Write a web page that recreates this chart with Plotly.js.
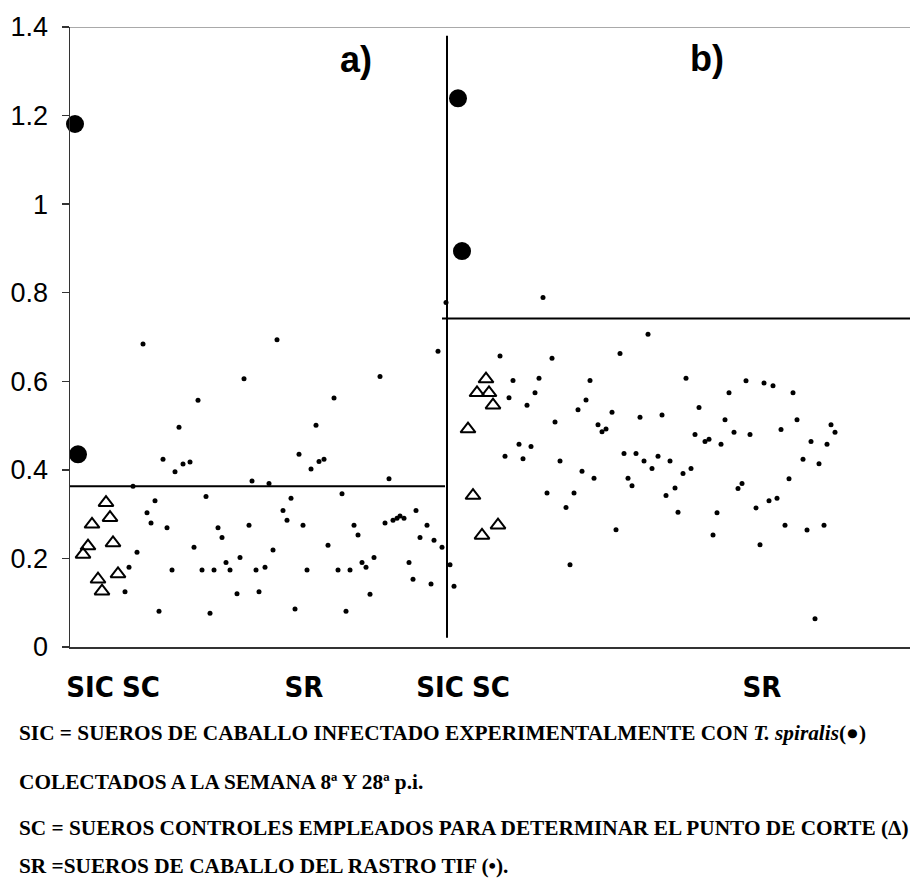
<!DOCTYPE html>
<html>
<head>
<meta charset="utf-8">
<script src="https://cdn.plot.ly/plotly-3.0.1.min.js"></script>
<style>html,body{margin:0;padding:0;background:#fff;}#chart{width:910px;height:878px;}</style>
</head>
<body>
<div id="chart"></div>
<script>
// ---- data (x = sample position along the axis, y = optical density) ----
const sicA_x = [5, 8];
const sicA_y = [1.181, 0.435];
const scA_x = [36, 22, 40, 18, 13, 43, 28, 32, 48];
const scA_y = [0.326, 0.277, 0.292, 0.228, 0.209, 0.235, 0.153, 0.126, 0.165];
const srA_x = [73, 174, 128, 109, 93, 105, 113, 120, 182, 63, 85, 136, 77, 81, 97, 148, 152, 179, 124, 67,
  59, 102, 132, 144, 156, 160, 170, 186, 55, 167, 189, 89, 140,
  199, 207, 310, 264, 246, 229, 241, 249, 254, 319, 368, 376, 221, 272, 213, 217, 233, 284, 288, 315, 323,
  327, 330, 334, 346, 357, 350, 364, 372, 203, 258, 195, 237, 268, 280, 292, 296, 304, 339, 343, 361, 300, 225, 276];
const srA_y = [0.684, 0.606, 0.557, 0.496, 0.424, 0.396, 0.413, 0.418, 0.375, 0.363, 0.330, 0.340, 0.303, 0.280, 0.269, 0.269, 0.247, 0.275, 0.225, 0.214,
  0.180, 0.174, 0.174, 0.174, 0.191, 0.174, 0.202, 0.174, 0.125, 0.120, 0.125, 0.081, 0.076,
  0.369, 0.694, 0.611, 0.562, 0.501, 0.435, 0.402, 0.419, 0.424, 0.380, 0.668, 0.778, 0.336, 0.346, 0.308, 0.286, 0.275, 0.275, 0.253, 0.280, 0.286,
  0.291, 0.296, 0.291, 0.308, 0.275, 0.247, 0.241, 0.225, 0.219, 0.230, 0.180, 0.174, 0.174, 0.174, 0.191, 0.180, 0.202, 0.191, 0.153, 0.142, 0.119, 0.086, 0.081];

const sicB_x = [388, 392];
const sicB_y = [1.239, 0.894];
const scB_x = [416, 407, 419, 423, 398, 403, 428, 412];
const scB_y = [0.605, 0.574, 0.574, 0.546, 0.492, 0.342, 0.275, 0.252];
const srB_x = [430, 482, 550, 578, 443, 469, 520, 439, 465, 457, 516, 508, 542, 570, 592, 485, 528, 532, 536, 449,
  461, 435, 453, 490, 554, 566, 574, 588, 600, 582, 512, 524, 558, 562, 477, 504, 605, 596, 608, 496,
  546, 500, 380, 384, 473,
  616, 676, 694, 703, 659, 723, 629, 655, 727, 761, 765, 625, 635, 639, 651, 664, 680, 711, 741, 757,
  733, 749, 621, 613, 719, 672, 668, 699, 707, 686, 647, 715, 737, 754, 643, 690, 745];
const srB_y = [0.657, 0.652, 0.663, 0.706, 0.602, 0.607, 0.602, 0.563, 0.574, 0.546, 0.558, 0.536, 0.530, 0.519, 0.524, 0.508, 0.502, 0.486, 0.492, 0.458,
  0.453, 0.431, 0.425, 0.420, 0.437, 0.437, 0.420, 0.431, 0.420, 0.403, 0.397, 0.381, 0.381, 0.364, 0.348, 0.348, 0.359, 0.342, 0.304, 0.315,
  0.265, 0.186, 0.186, 0.137, 0.789,
  0.607, 0.601, 0.596, 0.590, 0.574, 0.574, 0.541, 0.513, 0.513, 0.502, 0.485, 0.480, 0.464, 0.469, 0.458, 0.485, 0.480, 0.491, 0.464, 0.458,
  0.424, 0.414, 0.403, 0.392, 0.380, 0.369, 0.358, 0.330, 0.336, 0.314, 0.303, 0.275, 0.264, 0.275, 0.253, 0.231, 0.064];

// cut-off values and panel extents
const cutoffA = 0.363;
const cutoffB = 0.742;
const panelSplit = 377;

// x-axis group labels
const groupTickVals = [20, 71, 234, 370, 421, 692];
const groupTickText = ['SIC', 'SC', 'SR', 'SIC', 'SC', 'SR'];

const legendLines = [
  'SIC = SUEROS DE CABALLO INFECTADO EXPERIMENTALMENTE CON <i>T. spiralis</i>(●)',
  'COLECTADOS A LA SEMANA 8ª Y 28ª p.i.',
  'SC = SUEROS CONTROLES EMPLEADOS PARA DETERMINAR EL PUNTO DE CORTE (Δ)',
  'SR =SUEROS DE CABALLO DEL RASTRO TIF (•).'
];

// ---- traces ----
const big = {size: 18, color: '#000'};
const tri = {size: 13, symbol: 'triangle-up-open', color: '#000', line: {width: 2, color: '#000'}};
const dot = {size: 5, color: '#000'};
const traces = [
  {x: sicA_x, y: sicA_y, mode: 'markers', type: 'scatter', marker: big, cliponaxis: false},
  {x: scA_x, y: scA_y, mode: 'markers', type: 'scatter', marker: tri, cliponaxis: false},
  {x: srA_x, y: srA_y, mode: 'markers', type: 'scatter', marker: dot, cliponaxis: false},
  {x: sicB_x, y: sicB_y, mode: 'markers', type: 'scatter', marker: big, cliponaxis: false},
  {x: scB_x, y: scB_y, mode: 'markers', type: 'scatter', marker: tri, cliponaxis: false},
  {x: srB_x, y: srB_y, mode: 'markers', type: 'scatter', marker: dot, cliponaxis: false}
];

const legendY = [-0.1387, -0.2177, -0.2919, -0.3532];
const annotations = legendLines.map((t, i) => ({
  text: '<b>' + t + '</b>', xref: 'paper', yref: 'paper', x: -0.0631, y: legendY[i],
  xanchor: 'left', yanchor: 'middle', showarrow: false,
  font: {family: 'Liberation Serif, Times New Roman, serif', size: 21.3, color: '#000'}
}));
annotations.push(
  {text: '<b>a)</b>', xref: 'paper', yref: 'paper', x: 0.3405, y: 0.9468, xanchor: 'center', yanchor: 'middle',
   showarrow: false, font: {family: 'Liberation Sans, Arial, sans-serif', size: 36, color: '#000'}},
  {text: '<b>b)</b>', xref: 'paper', yref: 'paper', x: 0.7583, y: 0.95, xanchor: 'center', yanchor: 'middle',
   showarrow: false, font: {family: 'Liberation Sans, Arial, sans-serif', size: 36, color: '#000'}}
);

const layout = {
  width: 910, height: 878,
  margin: {l: 70, r: 0, t: 27, b: 231, pad: 0},
  paper_bgcolor: '#fff', plot_bgcolor: '#fff',
  showlegend: false,
  xaxis: {
    range: [0, 840], showgrid: false, zeroline: false, showline: true, linecolor: '#333', linewidth: 1.5,
    tickmode: 'array', tickvals: groupTickVals, ticktext: groupTickText, ticks: '',
    tickangle: 0, ticklabelstandoff: 14,
    tickfont: {family: 'DejaVu Sans Condensed, Liberation Sans, sans-serif', size: 29, weight: 'bold', color: '#000'}
  },
  yaxis: {
    range: [0, 1.4], dtick: 0.2, tick0: 0, showgrid: false, zeroline: false,
    showline: true, linecolor: '#333', linewidth: 1.5,
    ticks: 'outside', ticklen: 7, tickwidth: 1.5, tickcolor: '#333',
    ticklabelstandoff: 8,
    tickfont: {family: 'Liberation Sans, Arial, sans-serif', size: 27, color: '#000'}
  },
  shapes: [
    {type: 'line', xref: 'paper', yref: 'y', x0: 0, x1: 1, y0: 1.4, y1: 1.4, line: {color: '#555', width: 1.2}},
    {type: 'line', xref: 'x', yref: 'y', x0: panelSplit, x1: panelSplit, y0: 0.021, y1: 1.38, line: {color: '#000', width: 2}},
    {type: 'line', xref: 'x', yref: 'y', x0: 0, x1: 375, y0: cutoffA, y1: cutoffA, line: {color: '#000', width: 2}},
    {type: 'line', xref: 'x', yref: 'y', x0: 372, x1: 840, y0: cutoffB, y1: cutoffB, line: {color: '#000', width: 2}}
  ],
  annotations: annotations
};

Plotly.newPlot('chart', traces, layout, {displayModeBar: false, staticPlot: true});
</script>
</body>
</html>
